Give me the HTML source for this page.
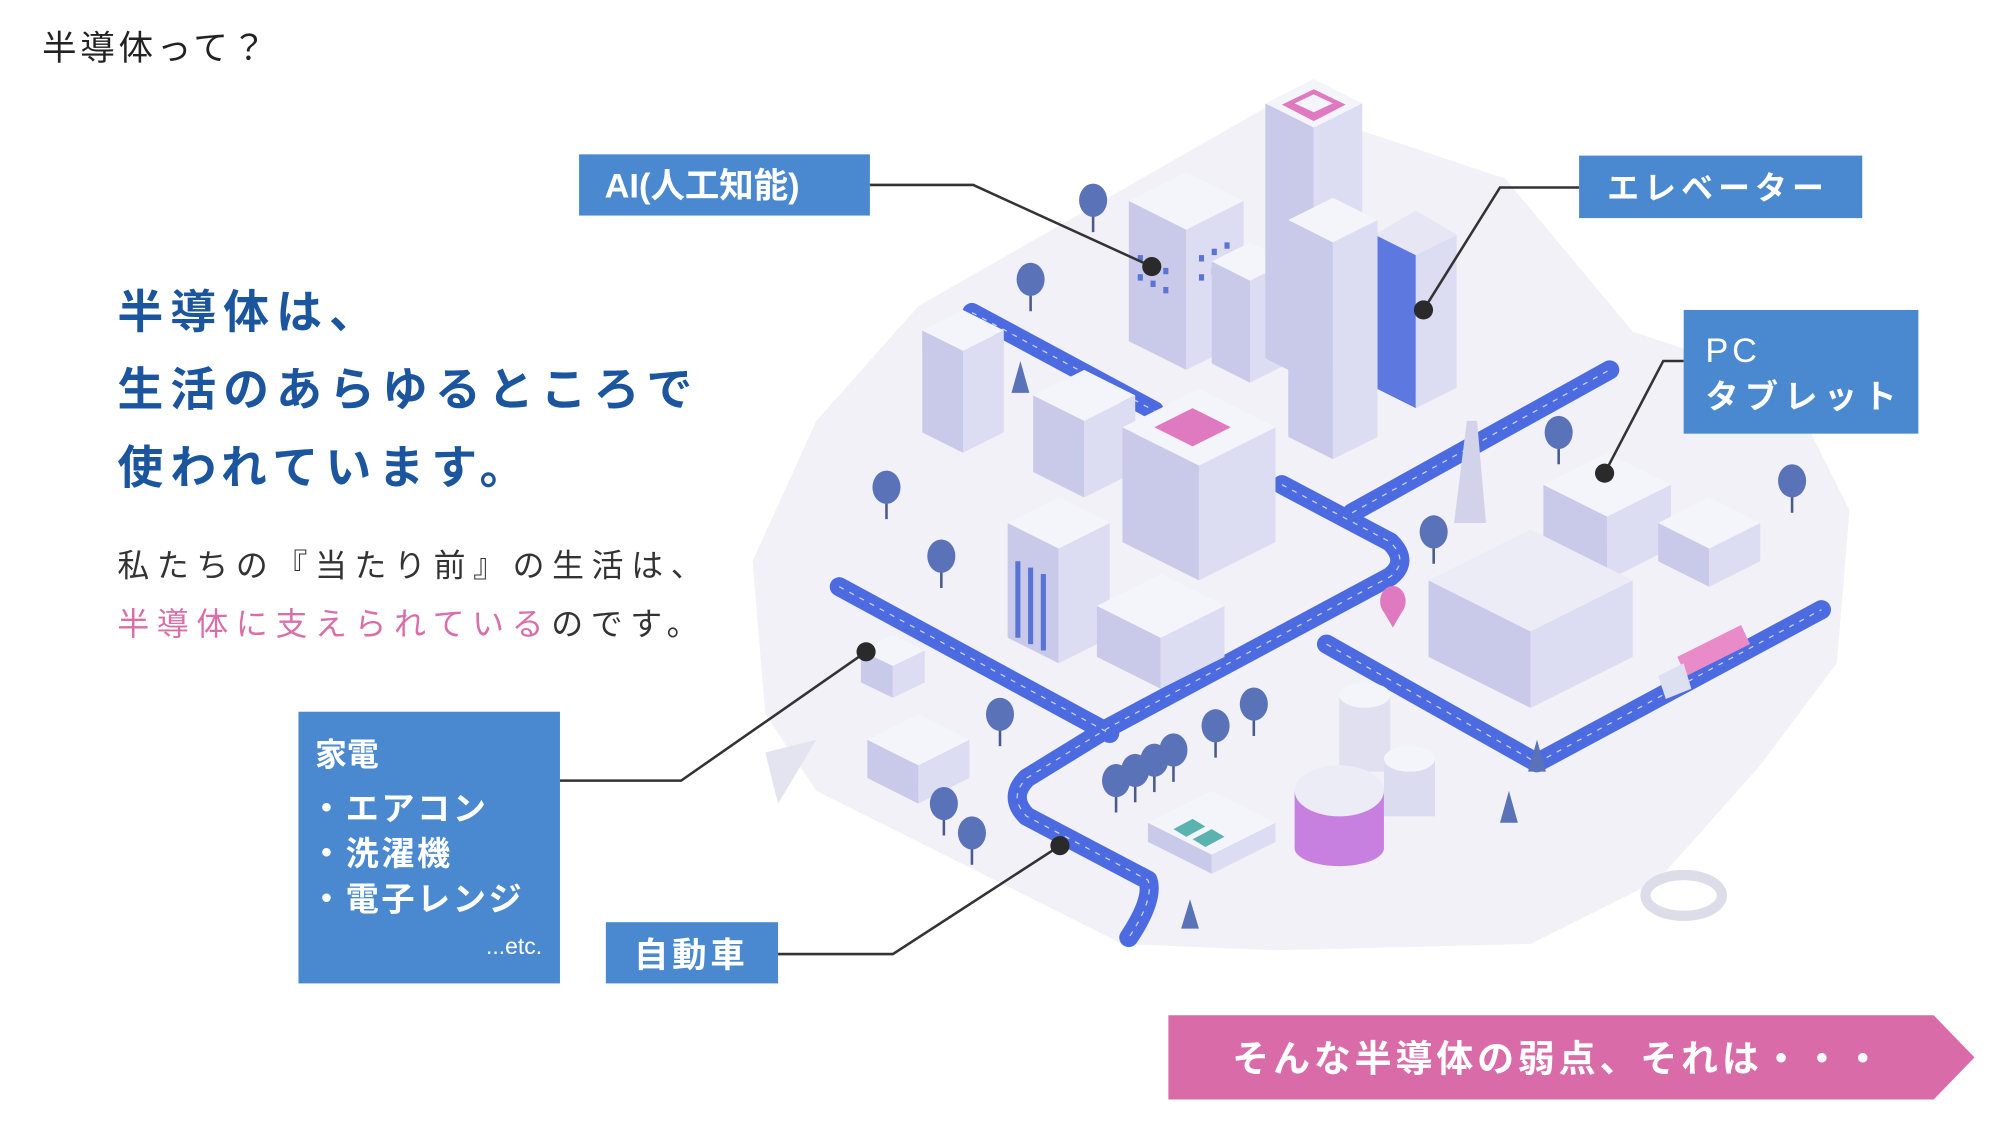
<!DOCTYPE html>
<html><head><meta charset="utf-8"><style>
html,body{margin:0;padding:0;background:#fff;}
svg{display:block;}
text{font-family:"Liberation Sans","Noto Sans CJK JP",sans-serif;}
</style></head><body>
<svg width="2000" height="1125" viewBox="0 0 1568 882" xmlns="http://www.w3.org/2000/svg">
<rect width="1568" height="882" fill="#fff"/>
<!-- ground -->
<path d="M720,240 L1000,80 L1180,140 L1280,260 L1400,300 L1450,400 L1440,520 L1380,600 L1300,690 L1200,740 L1000,745 L880,740 L780,690 L640,620 L600,560 L590,440 L640,330 Z" fill="#f1f1f7"/>
<path d="M600,590 L640,580 L610,630 Z" fill="#e3e4ef"/>
<ellipse cx="1320" cy="702" rx="30" ry="16" fill="none" stroke="#dcdde9" stroke-width="8"/>
<!-- roads -->
<g fill="none" stroke="#4d6be0" stroke-width="15" stroke-linejoin="round" stroke-linecap="round">
<path d="M762,245 L905,322"/>
<path d="M1005,380 L1090,425 Q1105,440 1090,452 L870,570 L805,610 Q790,625 805,640 L900,690 Q905,705 885,735"/>
<path d="M658,460 L870,575"/>
<path d="M1060,402 L1262,290"/>
<path d="M1040,505 L1205,598 L1428,478"/>
</g>
<g fill="none" stroke="#fff" stroke-width="1" stroke-dasharray="4 5" opacity=".7">
<path d="M762,245 L905,322"/>
<path d="M1005,380 L1090,425 Q1105,440 1090,452 L870,570 L805,610 Q790,625 805,640 L900,690 Q905,705 885,735"/>
<path d="M658,460 L870,575"/><path d="M1060,402 L1262,290"/><path d="M1040,505 L1205,598 L1428,478"/>
</g>
<!-- buildings -->
<g stroke="none">
<g><polygon points="723,339 755,355 755,275 723,259" fill="#c9cae9"/><polygon points="755,355 787,339 787,259 755,275" fill="#dcdcf2"/><polygon points="755,275 723,259 755,243 787,259" fill="#f4f4fb"/></g>
<g><polygon points="810,370 850,390 850,330 810,310" fill="#c9cae9"/><polygon points="850,390 890,370 890,310 850,330" fill="#dcdcf2"/><polygon points="850,330 810,310 850,290 890,310" fill="#f4f4fb"/></g>
<g><polygon points="885,267.5 930,290 930,180 885,157.5" fill="#c9cae9"/><polygon points="930,290 975,267.5 975,157.5 930,180" fill="#dcdcf2"/><polygon points="930,180 885,157.5 930,135 975,157.5" fill="#f4f4fb"/></g>
<g fill="#5a74d6"><rect x="892" y="200" width="4" height="5"/><rect x="902" y="205" width="4" height="5"/><rect x="912" y="210" width="4" height="5"/><rect x="892" y="215" width="4" height="5"/><rect x="902" y="220" width="4" height="5"/><rect x="912" y="225" width="4" height="5"/><rect x="940" y="200" width="4" height="5"/><rect x="950" y="195" width="4" height="5"/><rect x="960" y="190" width="4" height="5"/><rect x="940" y="215" width="4" height="5"/><rect x="950" y="210" width="4" height="5"/><rect x="960" y="205" width="4" height="5"/></g>
<g><polygon points="950,285 980,300 980,220 950,205" fill="#c9cae9"/><polygon points="980,300 1010,285 1010,205 980,220" fill="#dcdcf2"/><polygon points="980,220 950,205 980,190 1010,205" fill="#f4f4fb"/></g>
<g><polygon points="992,281 1030,300 1030,100 992,81" fill="#c9cae9"/><polygon points="1030,300 1068,281 1068,81 1030,100" fill="#dcdcf2"/><polygon points="1030,100 992,81 1030,62 1068,81" fill="#f4f4fb"/><polygon points="1030,95 1005,82 1030,70 1055,82" fill="#e07ac0"/><polygon points="1030,88 1015,81 1030,74 1045,81" fill="#f4f4fb"/></g>
<g><polygon points="1078,304 1110,320 1110,200 1078,184" fill="#5d78de"/><polygon points="1110,320 1142,304 1142,184 1110,200" fill="#dcdcf2"/><polygon points="1110,200 1078,184 1110,165 1142,184" fill="#e6e6f5"/></g>
<g><polygon points="1010,342.5 1045,360 1045,190 1010,172.5" fill="#c9cae9"/><polygon points="1045,360 1080,342.5 1080,172.5 1045,190" fill="#dcdcf2"/><polygon points="1045,190 1010,172.5 1045,155 1080,172.5" fill="#f4f4fb"/></g>
<g><polygon points="880,425 940,455 940,365 880,335" fill="#c9cae9"/><polygon points="940,455 1000,425 1000,335 940,365" fill="#dcdcf2"/><polygon points="940,365 880,335 940,305 1000,335" fill="#f4f4fb"/><polygon points="935,350 905,335 935,320 965,335" fill="#e07ac0"/></g>
<g><polygon points="790,500 830,520 830,430 790,410" fill="#c9cae9"/><polygon points="830,520 870,500 870,410 830,430" fill="#dcdcf2"/><polygon points="830,430 790,410 830,390 870,410" fill="#f4f4fb"/></g>
<g fill="#5a74d6"><rect x="796" y="440" width="4" height="60"/><rect x="806" y="445" width="4" height="60"/><rect x="816" y="450" width="4" height="60"/></g>
<g><polygon points="860,515 910,540 910,500 860,475" fill="#c9cae9"/><polygon points="910,540 960,515 960,475 910,500" fill="#dcdcf2"/><polygon points="910,500 860,475 910,450 960,475" fill="#f4f4fb"/></g>
<g><polygon points="1210,430 1260,455 1260,405 1210,380" fill="#c9cae9"/><polygon points="1260,455 1310,430 1310,380 1260,405" fill="#dcdcf2"/><polygon points="1260,405 1210,380 1260,355 1310,380" fill="#f4f4fb"/></g>
<g><polygon points="1300,440 1340,460 1340,430 1300,410" fill="#c9cae9"/><polygon points="1340,460 1380,440 1380,410 1340,430" fill="#dcdcf2"/><polygon points="1340,430 1300,410 1340,390 1380,410" fill="#f4f4fb"/></g>
<g><polygon points="1120,515 1200,555 1200,495 1120,455" fill="#c9cae9"/><polygon points="1200,555 1280,515 1280,455 1200,495" fill="#dcdcf2"/><polygon points="1200,495 1120,455 1200,415 1280,455" fill="#ececf7"/></g>
<g><polygon points="675,535 700,547 700,522 675,510" fill="#c9cae9"/><polygon points="700,547 725,535 725,510 700,522" fill="#dcdcf2"/><polygon points="700,522 675,510 700,498 725,510" fill="#f4f4fb"/></g>
<g><polygon points="680,610 720,630 720,600 680,580" fill="#c9cae9"/><polygon points="720,630 760,610 760,580 720,600" fill="#dcdcf2"/><polygon points="720,600 680,580 720,560 760,580" fill="#f4f4fb"/></g>
<g><polygon points="900,660 950,685 950,670 900,645" fill="#c9cae9"/><polygon points="950,685 1000,660 1000,645 950,670" fill="#dcdcf2"/><polygon points="950,670 900,645 950,620 1000,645" fill="#f4f4fb"/></g>
<g fill="#5bb3b0"><polygon points="920,650 935,642 945,648 930,656"/><polygon points="935,658 950,650 960,656 945,664"/></g>
<polygon points="1140,410 1150,330 1158,330 1165,410" fill="#d2d3ea"/>
<rect x="1050" y="545" width="40" height="60" fill="#e0e0f0"/><ellipse cx="1070" cy="545" rx="20" ry="10" fill="#f4f4fb"/>
<rect x="1085" y="595" width="40" height="45" fill="#dcdcf0"/><ellipse cx="1105" cy="595" rx="20" ry="10" fill="#f4f4fb"/>
<rect x="1015" y="620" width="70" height="45" fill="#c77fe0"/><ellipse cx="1050" cy="665" rx="35" ry="14" fill="#c77fe0"/><ellipse cx="1050" cy="620" rx="35" ry="20" fill="#ececf7"/>
<polygon points="1315,515 1365,490 1372,505 1322,530" fill="#e98bc9"/><polygon points="1300,530 1320,520 1326,540 1306,548" fill="#dde0f0"/>
<path d="M1085,480 a10,12 0 1,1 14,0 l-7,12z" fill="#e07ac0"/>
</g>
<!-- trees -->
<g stroke="#4a5a8a" stroke-width="2">
<line x1="857" y1="157" x2="857" y2="182"/><line x1="808" y1="219" x2="808" y2="244"/><line x1="695" y1="382" x2="695" y2="407"/><line x1="738" y1="436" x2="738" y2="461"/><line x1="784" y1="560" x2="784" y2="585"/><line x1="740" y1="630" x2="740" y2="655"/><line x1="762" y1="653" x2="762" y2="678"/><line x1="875" y1="612" x2="875" y2="637"/><line x1="890" y1="604" x2="890" y2="629"/><line x1="905" y1="596" x2="905" y2="621"/><line x1="920" y1="588" x2="920" y2="613"/><line x1="953" y1="569" x2="953" y2="594"/><line x1="983" y1="552" x2="983" y2="577"/><line x1="1124" y1="417" x2="1124" y2="442"/><line x1="1222" y1="339" x2="1222" y2="364"/><line x1="1405" y1="377" x2="1405" y2="402"/>
</g>
<g fill="#5a73b8">
<ellipse cx="857" cy="157" rx="11" ry="13"/><ellipse cx="808" cy="219" rx="11" ry="13"/><ellipse cx="695" cy="382" rx="11" ry="13"/><ellipse cx="738" cy="436" rx="11" ry="13"/><ellipse cx="784" cy="560" rx="11" ry="13"/><ellipse cx="740" cy="630" rx="11" ry="13"/><ellipse cx="762" cy="653" rx="11" ry="13"/><ellipse cx="875" cy="612" rx="11" ry="13"/><ellipse cx="890" cy="604" rx="11" ry="13"/><ellipse cx="905" cy="596" rx="11" ry="13"/><ellipse cx="920" cy="588" rx="11" ry="13"/><ellipse cx="953" cy="569" rx="11" ry="13"/><ellipse cx="983" cy="552" rx="11" ry="13"/><ellipse cx="1124" cy="417" rx="11" ry="13"/><ellipse cx="1222" cy="339" rx="11" ry="13"/><ellipse cx="1405" cy="377" rx="11" ry="13"/>
<polygon points="933,705 926,728 940,728" /><polygon points="1183,620 1176,645 1190,645"/><polygon points="1205,580 1198,605 1212,605"/><polygon points="800,283 793,308 807,308"/>
</g>
<!-- connectors -->
<g fill="none" stroke="#333" stroke-width="2">
<polyline points="682,145 763,145 903,209"/>
<polyline points="1238,147 1176,147 1116,243"/>
<polyline points="1320,283 1304,283 1258,371"/>
<polyline points="439,612 534,612 679,511"/>
<polyline points="610,748 700,748 831,663"/>
</g>
<g fill="#2a2a2a"><circle cx="903" cy="209" r="7.5"/><circle cx="1116" cy="243" r="7.5"/><circle cx="1258" cy="371" r="7.5"/><circle cx="679" cy="511" r="7.5"/><circle cx="831" cy="663" r="7.5"/></g>
<!-- label boxes -->
<g fill="#4a89d0">
<rect x="454" y="121" width="228" height="48"/>
<rect x="1238" y="122" width="222" height="49"/>
<rect x="1320" y="243" width="184" height="97"/>
<rect x="234" y="558" width="205" height="213"/>
<rect x="475" y="723" width="135" height="48"/>
</g>
<g fill="#fff" font-weight="bold">
<text x="474" y="155" font-size="27">AI(人工知能)</text>
<text x="1260" y="156" font-size="25" letter-spacing="4">エレベーター</text>
<text x="1337" y="284" font-size="27" letter-spacing="3" font-weight="normal">PC</text>
<text x="1337" y="320" font-size="26" letter-spacing="5">タブレット</text>
<text x="247" y="600" font-size="25">家電</text>
<text x="243" y="643" font-size="26" letter-spacing="2">・エアコン</text>
<text x="243" y="678" font-size="26" letter-spacing="2">・洗濯機</text>
<text x="243" y="714" font-size="26" letter-spacing="2">・電子レンジ</text>
<text x="425" y="748" font-size="18" text-anchor="end" font-weight="normal">...etc.</text>
<text x="497" y="758" font-size="27" letter-spacing="3">自動車</text>
</g>
<!-- pink arrow -->
<polygon points="916,796 1516,796 1548,829 1516,862 916,862" fill="#d96ca8"/>
<text x="1222" y="840" font-size="29" fill="#fff" font-weight="bold" text-anchor="middle" letter-spacing="3">そんな半導体の弱点、それは・・・</text>
<!-- left texts -->
<text x="33" y="47" font-size="27" fill="#222" letter-spacing="3">半導体って？</text>
<g fill="#1a559e" font-weight="bold" font-size="36" letter-spacing="5.5">
<text x="92" y="257">半導体は、</text>
<text x="92" y="318">生活のあらゆるところで</text>
<text x="92" y="379">使われています。</text>
</g>
<text x="92" y="452" font-size="25" fill="#333" letter-spacing="6">私たちの『当たり前』の生活は、</text>
<text x="92" y="498" font-size="25" letter-spacing="6"><tspan fill="#d86fa8">半導体に支えられている</tspan><tspan fill="#333">のです。</tspan></text>
</svg>
</body></html>
